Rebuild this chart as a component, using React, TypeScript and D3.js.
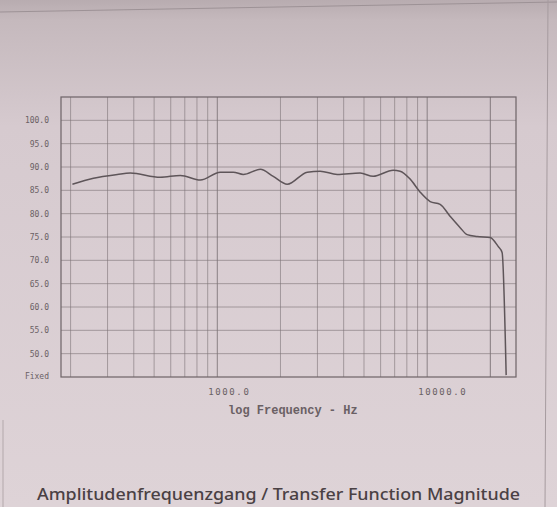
import React, { useEffect, useRef } from "react";
import * as d3 from "d3";

const freqs = [
  204, 257, 334, 385, 535, 667, 830, 1033, 1192, 1330, 1602, 1848, 2154,
  2683, 3092, 3727, 4794, 5530, 6887, 7430, 8298, 9264, 10330, 11530, 12880,
  14360, 15500, 17300, 19950, 21780, 22750, 23790,
];
const levels = [
  86.3, 87.6, 88.4, 88.7, 87.8, 88.2, 87.2, 88.9, 88.9, 88.4, 89.5, 88.0, 86.3,
  88.9, 89.1, 88.4, 88.7, 88.0, 89.3, 89.1, 87.4, 84.6, 82.6, 82.0, 79.4, 77.0,
  75.5, 75.1, 74.9, 73.0, 71.7, 45.4,
];

const yTicks = [100, 95, 90, 85, 80, 75, 70, 65, 60, 55, 50];
const yTickLabels = ["100.0", "95.0", "90.0", "85.0", "80.0", "75.0", "70.0", "65.0", "60.0", "55.0", "50.0"];
const xLabelTicks = [1000, 10000];
const xTickLabels = ["1000.0", "10000.0"];
const bottomLabel = "Fixed";
const xTitle = "log Frequency - Hz";
const caption = "Amplitudenfrequenzgang / Transfer Function Magnitude";

const W = 557;
const H = 507;

export default function App() {
  const ref = useRef<SVGSVGElement>(null);

  useEffect(() => {
    const svg = d3.select(ref.current);
    svg.selectAll("*").remove();

    const left = 61, right = 516, top = 97, bottom = 377;

    const x = d3.scaleLog().domain([180, 26500]).range([left, right]);
    const y = d3.scaleLinear().domain([45, 105]).range([bottom, top]);

    // paper background
    const defs = svg.append("defs");
    const grad = defs.append("linearGradient").attr("id", "paper")
      .attr("x1", 0).attr("y1", 0).attr("x2", 0).attr("y2", 1);
    grad.append("stop").attr("offset", "0%").attr("stop-color", "#b8acb0");
    grad.append("stop").attr("offset", "4%").attr("stop-color", "#c5b9bd");
    grad.append("stop").attr("offset", "25%").attr("stop-color", "#d6cacf");
    grad.append("stop").attr("offset", "100%").attr("stop-color", "#ded3d7");
    const clip = defs.append("clipPath").attr("id", "plotclip");
    clip.append("rect").attr("x", left).attr("y", top)
      .attr("width", right - left).attr("height", bottom - top);

    svg.append("rect").attr("width", W).attr("height", H).attr("fill", "url(#paper)");

    // outer page lines
    svg.append("line").attr("x1", 0).attr("y1", 12).attr("x2", 557).attr("y2", 2)
      .attr("stroke", "#9d9296").attr("stroke-width", 1);
    svg.append("line").attr("x1", 548).attr("y1", 0).attr("x2", 545).attr("y2", H)
      .attr("stroke", "#a69b9f").attr("stroke-width", 1);
    svg.append("line").attr("x1", 3).attr("y1", 420).attr("x2", 3).attr("y2", H)
      .attr("stroke", "#b3a8ab").attr("stroke-width", 1);

    const g = svg.append("g");

    // vertical log grid
    const gridF: number[] = [];
    for (let dec = 100; dec <= 10000; dec *= 10) {
      for (let m = 1; m <= 9; m++) {
        const f = dec * m;
        if (f > 180 && f < 26500) gridF.push(f);
      }
    }
    gridF.push(20000);
    g.selectAll("line.vg").data(gridF).enter().append("line")
      .attr("class", "vg")
      .attr("x1", (d) => x(d)).attr("x2", (d) => x(d))
      .attr("y1", top).attr("y2", bottom)
      .attr("stroke", "#7d7377")
      .attr("stroke-opacity", (d) => (Math.log10(d) % 1 === 0 ? 0.85 : 0.6))
      .attr("stroke-width", 1);

    // horizontal grid
    g.selectAll("line.hg").data(yTicks).enter().append("line")
      .attr("class", "hg")
      .attr("x1", left).attr("x2", right)
      .attr("y1", (d) => y(d)).attr("y2", (d) => y(d))
      .attr("stroke", "#7d7377").attr("stroke-opacity", 0.6).attr("stroke-width", 1);

    // frame
    g.append("rect").attr("x", left).attr("y", top)
      .attr("width", right - left).attr("height", bottom - top)
      .attr("fill", "none").attr("stroke", "#6d6367").attr("stroke-width", 1.2);

    // response curve
    const pts = freqs.map((f, i) => [f, levels[i]] as [number, number]);
    g.append("path").datum(pts)
      .attr("clip-path", "url(#plotclip)")
      .attr("fill", "none").attr("stroke", "#5e5559").attr("stroke-width", 1.5)
      .attr("stroke-linejoin", "round")
      .attr("d", d3.line<[number, number]>().x((d) => x(d[0])).y((d) => y(d[1])).curve(d3.curveMonotoneX));

    // y tick labels
    g.selectAll("text.yl").data(yTicks).enter().append("text")
      .attr("class", "yl")
      .attr("x", 49).attr("y", (d) => y(d) + 3)
      .attr("text-anchor", "end")
      .attr("font-family", "DejaVu Sans Mono")
      .attr("font-size", 8)
      .attr("fill", "#6a6064")
      .text((d, i) => yTickLabels[i]);
    g.append("text").attr("x", 49).attr("y", y(45) + 2)
      .attr("text-anchor", "end").attr("font-family", "DejaVu Sans Mono")
      .attr("font-size", 8).attr("fill", "#6a6064")
      .text(bottomLabel);

    // x tick labels
    g.selectAll("text.xl").data(xLabelTicks).enter().append("text")
      .attr("class", "xl")
      .attr("x", (d) => x(d) - 9).attr("y", 395)
      .attr("font-family", "DejaVu Sans Mono")
      .attr("font-size", 9).attr("letter-spacing", 1.6)
      .attr("fill", "#6a6064")
      .text((d, i) => xTickLabels[i]);

    g.append("text").attr("x", 228).attr("y", 414)
      .attr("font-family", "Liberation Mono").attr("font-size", 12)
      .attr("font-weight", "bold")
      .attr("fill", "#6a6064")
      .text(xTitle);

    // caption
    svg.append("text").attr("x", 37).attr("y", 500)
      .attr("textLength", 483).attr("lengthAdjust", "spacingAndGlyphs")
      .attr("font-family", "Noto Sans").attr("font-size", 16).attr("font-weight", 500)
      .attr("fill", "#4a4144")
      .text(caption);
  }, []);

  return (
    <svg ref={ref} width={W} height={H} style={{ position: "absolute", left: 0, top: 0, display: "block" }} />
  );
}
